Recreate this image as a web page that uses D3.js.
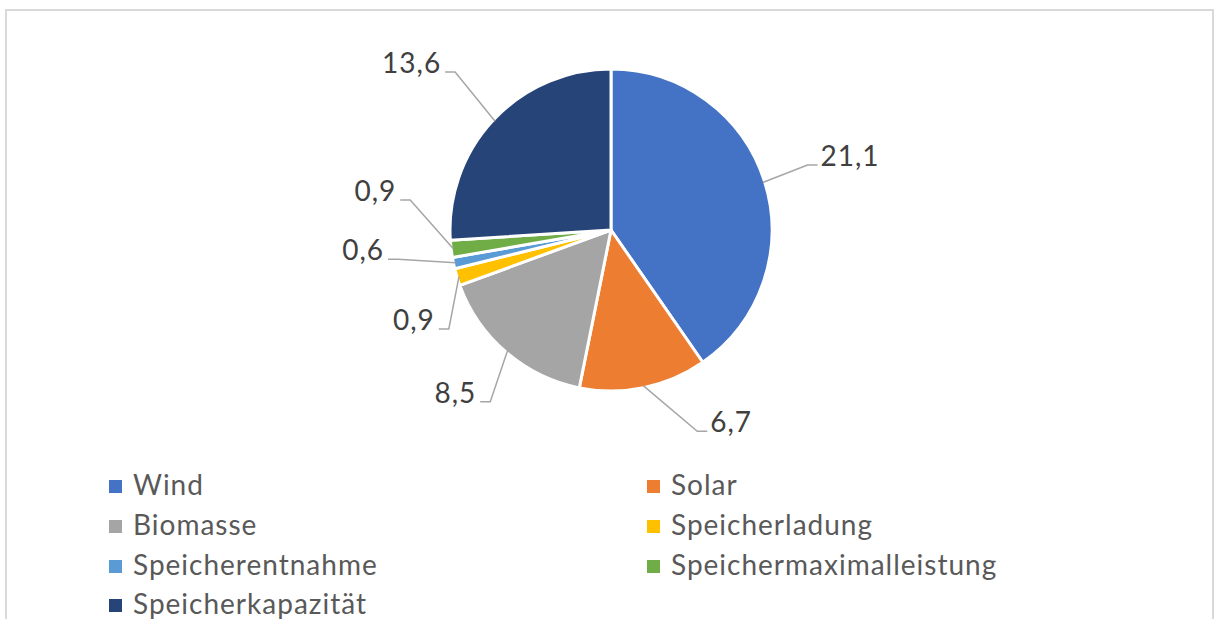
<!DOCTYPE html>
<html><head><meta charset="utf-8">
<script src="https://cdn.jsdelivr.net/npm/d3@7"></script>
<style>body{margin:0;background:#fff;overflow:hidden}</style>
</head><body>
<svg id="c" width="1214" height="619"></svg>
<script>
const categories = ["Wind","Solar","Biomasse","Speicherladung","Speicherentnahme","Speichermaximalleistung","Speicherkapazität"];
const values = [21.1, 6.7, 8.5, 0.9, 0.6, 0.9, 13.6];
const valueLabels = ["21,1","6,7","8,5","0,9","0,6","0,9","13,6"];
const colors = ["#4472C4","#ED7D31","#A5A5A5","#FFC000","#5B9BD5","#70AD47","#264478"];
// label elbow placement (angle in degrees clockwise from top, radius in px)
const elbowAngles = [71.7, 156.8, 215.1, 238.6, 262.2, 278.5, 315.4];
const elbowRadii = [207, 219, 210, 190, 215, 203, 222];

const svg = d3.select("#c");
// chart border (partly cut off at right/bottom)
svg.append("rect").attr("x",6).attr("y",10).attr("width",1207).attr("height",700)
  .attr("fill","none").attr("stroke","#d9d9d9").attr("stroke-width",2);

const cx = 611, cy = 230, R = 161;
const g = svg.append("g").attr("transform",`translate(${cx},${cy})`);
const pie = d3.pie().sort(null).value(d=>d)(values);
const arc = d3.arc().innerRadius(0).outerRadius(R);
g.selectAll("path.s").data(pie).join("path").attr("class","s")
  .attr("d",arc).attr("fill",(d,i)=>colors[i])
  .attr("stroke","#fff").attr("stroke-width",3).attr("stroke-linejoin","round");

const polar = (deg, r) => { const a = deg*Math.PI/180; return [r*Math.sin(a), -r*Math.cos(a)]; };
pie.forEach((d,i)=>{
  const mid = (d.startAngle+d.endAngle)/2*180/Math.PI;
  const p0 = polar(mid, R-2);
  const p1 = polar(elbowAngles[i], elbowRadii[i]);
  const right = p1[0] > 0;
  const p2 = [p1[0] + (right?10:-10), p1[1]];
  g.append("polyline").attr("points",[p0,p1,p2].map(p=>p.join(",")).join(" "))
    .attr("fill","none").attr("stroke","#a6a6a6").attr("stroke-width",1.5);
  g.append("text").attr("x",p2[0] + (right?3:-4)).attr("y",p1[1]+1)
    .attr("text-anchor", right?"start":"end")
    .attr("font-family","Lato, 'Open Sans', sans-serif").attr("font-size",28)
    .attr("letter-spacing", 1)
    .attr("fill","#404040").text(valueLabels[i]);
});

// legend
const leg = svg.append("g");
const colX = [109, 647], rowY = [495, 535, 575, 614];
categories.forEach((c,i)=>{
  const col = i%2, row = Math.floor(i/2);
  const x = colX[col], y = rowY[row];
  leg.append("rect").attr("x",x).attr("y",y-15).attr("width",13).attr("height",13).attr("fill",colors[i]);
  leg.append("text").attr("x",x+24).attr("y",y)
    .attr("font-family","Lato, 'Open Sans', sans-serif").attr("font-size",28)
    .attr("letter-spacing", 1)
    .attr("fill","#595959").text(c);
});
</script>
</body></html>
